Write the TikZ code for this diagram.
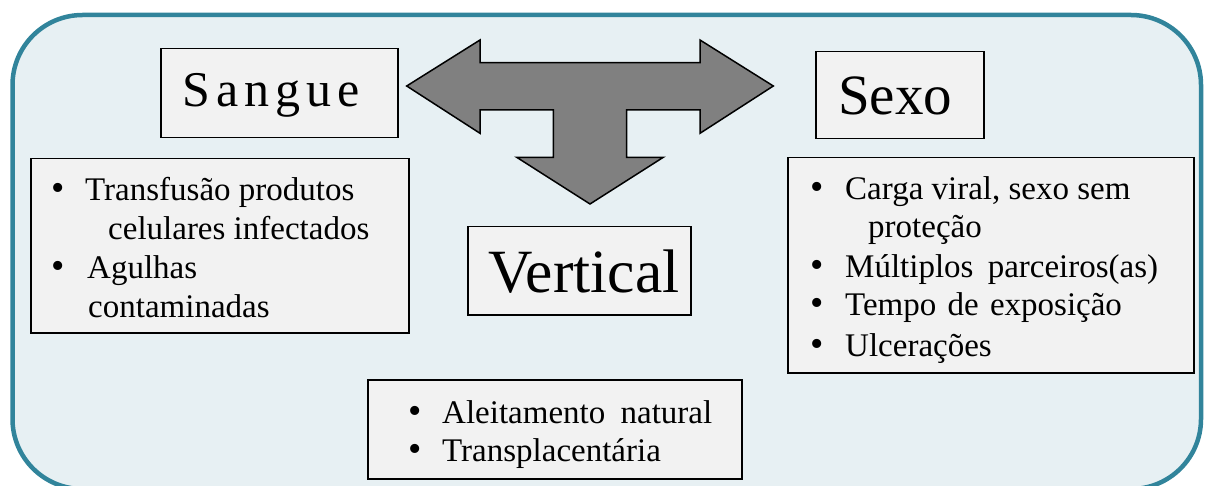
\documentclass[tikz,border=0pt]{standalone}
\usepackage{fontspec}
\setmainfont{Liberation Serif}
\definecolor{framecol}{HTML}{31849B}
\definecolor{bgfill}{HTML}{E7F0F3}
\definecolor{boxfill}{HTML}{F2F2F2}
\definecolor{arrowfill}{HTML}{808080}
\begin{document}
\begin{tikzpicture}[x=1pt,y=-1pt,
  box/.style={draw=black, line width=1.5pt, fill=boxfill, anchor=north west, inner sep=0pt},
  txt/.style={anchor=base west, inner sep=0pt, font=\fontsize{33}{39}\selectfont},
  bul/.style={anchor=base, inner sep=0pt, font=\fontsize{38}{44}\selectfont},
  title/.style={anchor=base west, inner sep=0pt}]
\useasboundingbox (0,0) rectangle (1207,486);
% outer frame
\draw[framecol, line width=4.5pt, fill=bgfill, rounded corners=70pt] (12.5,15) rectangle (1201,489);
% boxes
\node[box, minimum width=237pt, minimum height=89pt] (sangueBox) at (160,48) {};
\node[box, minimum width=168pt, minimum height=87pt] (sexoBox) at (815,51) {};
\node[box, minimum width=223pt, minimum height=88pt] (vertBox) at (467,226) {};
\node[box, minimum width=378pt, minimum height=174pt] (leftList) at (30,158) {};
\node[box, minimum width=406pt, minimum height=215pt] (rightList) at (787,157) {};
\node[box, minimum width=374pt, minimum height=99pt] (bottomList) at (367,379) {};
% three-way arrow
\draw[line width=1.5pt, fill=arrowfill, line join=miter]
  (406.7,86) -- (480,40) -- (480,62.7) -- (700,62.7) -- (700,40) -- (773.3,86)
  -- (700,133.3) -- (700,110) -- (626.7,110) -- (626.7,157.3) -- (663.3,157.3)
  -- (590,204) -- (516.7,157.3) -- (553.3,157.3) -- (553.3,110) -- (480,110)
  -- (480,133.3) -- cycle;
% titles
\node[title, font=\fontsize{50}{60}\selectfont] (sangue) at (182,107) {S\hspace{6pt}a\hspace{6pt}n\hspace{6pt}g\hspace{6pt}u\hspace{6pt}e};
\node[title, font=\fontsize{57}{68}\selectfont] (sexo) at (838,115) {Sexo};
\node[title, font=\fontsize{61.5}{72}\selectfont] (vertical) at (488,292) {Vertical};
% left list
\node[bul] (lb1) at (58,201) {•};
\node[txt] (l1) at (85,201) {Transfusão produtos};
\node[txt] (l2) at (108,240) {celulares infectados};
\node[bul] (lb2) at (58,279) {•};
\node[txt] (l3) at (87,279) {Agulhas};
\node[txt] (l4) at (88,317) {contaminadas};
% right list
\node[bul] (rb1) at (817,200) {•};
\node[txt] (r1) at (845,200) {Carga viral, sexo sem};
\node[txt] (r2) at (868,238) {proteção};
\node[bul] (rb2) at (817,278) {•};
\node[txt] (r3) at (845,278) {Múltiplos\hspace{6pt} parceiros(as)};
\node[bul] (rb3) at (817,316) {•};
\node[txt] (r4) at (845,316) {Tempo\hspace{3pt} de\hspace{3pt} exposição};
\node[bul] (rb4) at (817,356) {•};
\node[txt] (r5) at (845,356) {Ulcerações};
% bottom list
\node[bul] (bb1) at (415,423) {•};
\node[txt] (b1) at (442,423) {Aleitamento\hspace{7pt} natural};
\node[bul] (bb2) at (415,461) {•};
\node[txt] (b2) at (442,461) {Transplacentária};
\end{tikzpicture}
\end{document}
